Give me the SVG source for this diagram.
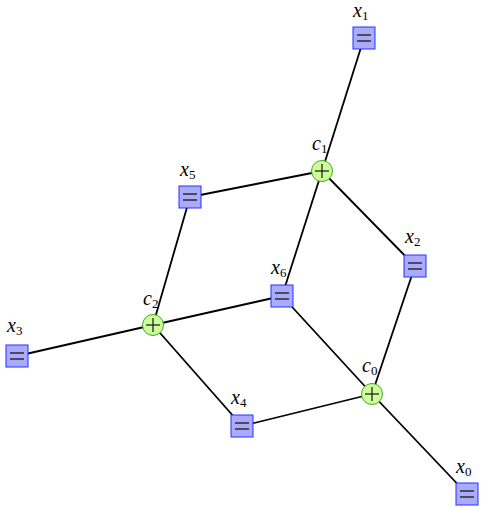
<svg xmlns="http://www.w3.org/2000/svg" width="484" height="507" viewBox="0 0 484 507">
<style>
.e{stroke:#000;stroke-width:1.8;fill:none}
.v{fill:#aaaaff;stroke:#2233ff;stroke-width:1}
.eq{stroke:#333;stroke-width:1.6}
.c{fill:#ccff99;stroke:#44aa22;stroke-width:1}
.pl{stroke:#222;stroke-width:1.3}
text{font-family:'Liberation Serif',serif;font-size:20px;font-style:italic;fill:#000}
tspan{font-style:normal;font-size:13px}
</style>
<defs>
<g id="box"><rect class="v" x="-11" y="-11" width="22" height="22"/><line class="eq" x1="-7" y1="-3" x2="7" y2="-3"/><line class="eq" x1="-7" y1="3" x2="7" y2="3"/></g>
<g id="chk"><circle class="c" r="10.5"/><line class="pl" x1="-7" y1="0" x2="7" y2="0"/><line class="pl" x1="0" y1="-7" x2="0" y2="7"/></g>
</defs>
<g id="connectors">
<line class="e" x1="364" y1="38" x2="322" y2="171"/>
<line class="e" x1="322" y1="171" x2="190" y2="197"/>
<line class="e" x1="322" y1="171" x2="415" y2="266"/>
<line class="e" x1="322" y1="171" x2="282" y2="296"/>
<line class="e" x1="190" y1="197" x2="153" y2="325"/>
<line class="e" x1="153" y1="325" x2="17" y2="356"/>
<line class="e" x1="153" y1="325" x2="282" y2="296"/>
<line class="e" x1="153" y1="325" x2="242" y2="426"/>
<line class="e" x1="282" y1="296" x2="372" y2="394"/>
<line class="e" x1="415" y1="266" x2="372" y2="394"/>
<line class="e" x1="242" y1="426" x2="372" y2="394"/>
<line class="e" x1="372" y1="394" x2="467" y2="494"/>
</g>
<g id="x1"><use href="#box" x="364" y="38"/><text x="353" y="17">x<tspan dy="3">1</tspan></text></g>
<g id="c1"><use href="#chk" x="322" y="171"/><text x="312" y="150">c<tspan dy="3">1</tspan></text></g>
<g id="x5"><use href="#box" x="190" y="197"/><text x="180" y="176">x<tspan dy="3">5</tspan></text></g>
<g id="x2"><use href="#box" x="415" y="266"/><text x="405" y="243">x<tspan dy="3">2</tspan></text></g>
<g id="x6"><use href="#box" x="282" y="296"/><text x="271" y="274">x<tspan dy="3">6</tspan></text></g>
<g id="c2"><use href="#chk" x="153" y="325"/><text x="143" y="305">c<tspan dy="3">2</tspan></text></g>
<g id="x3"><use href="#box" x="17" y="356"/><text x="7" y="332">x<tspan dy="3">3</tspan></text></g>
<g id="c0"><use href="#chk" x="372" y="394"/><text x="362" y="372">c<tspan dy="3">0</tspan></text></g>
<g id="x4"><use href="#box" x="242" y="426"/><text x="231" y="404">x<tspan dy="3">4</tspan></text></g>
<g id="x0"><use href="#box" x="467" y="494"/><text x="456" y="473">x<tspan dy="3">0</tspan></text></g>
</svg>
